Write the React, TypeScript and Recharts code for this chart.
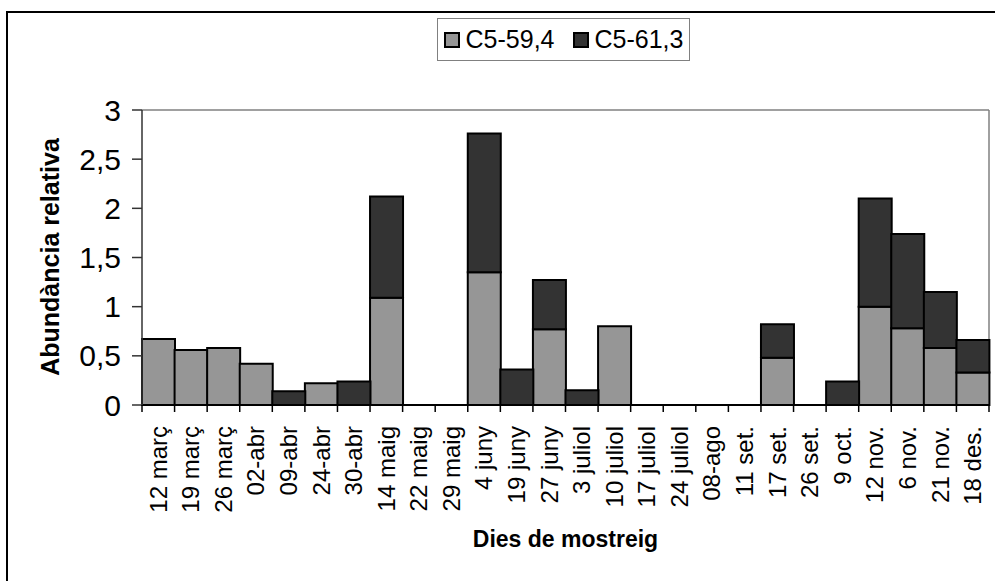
import React from "react";
import { Bar, BarChart, CartesianGrid, Label, Legend, XAxis, YAxis } from "recharts";

const dies = [
  "12 març", "19 març", "26 març", "02-abr", "09-abr", "24-abr", "30-abr", "14 maig",
  "22 maig", "29 maig", "4 juny", "19 juny", "27 juny", "3 juliol", "10 juliol", "17 juliol",
  "24 juliol", "08-ago", "11 set.", "17 set.", "26 set.", "9 oct.", "12 nov.", "6 nov.",
  "21 nov.", "18 des.",
];
const c594 = [0.67, 0.56, 0.58, 0.42, 0, 0.22, 0, 1.09, 0, 0, 1.35, 0, 0.77, 0, 0.8, 0, 0, 0, 0, 0.48, 0, 0, 1.0, 0.78, 0.58, 0.33];
const c613 = [0, 0, 0, 0, 0.14, 0, 0.24, 1.03, 0, 0, 1.41, 0.36, 0.5, 0.15, 0, 0, 0, 0, 0, 0.34, 0, 0.24, 1.1, 0.96, 0.57, 0.33];
const yTicks = [0, 0.5, 1, 1.5, 2, 2.5, 3];

const data = dies.map((d, i) => ({ dia: d, a: c594[i], b: c613[i] }));

const W = 995;
const H = 581;
const M = { top: 110, right: 6, bottom: 0, left: 0 };
const Y_W = 142;
const X_H = 176;
const FONT = "'Liberation Sans', Arial, sans-serif";
const GRIS = "#969696";
const FOSC = "#333333";

const plotW = W - M.left - M.right - Y_W;
const bw = plotW / dies.length;

function XTick(props: any) {
  const { x, y, payload, index } = props;
  const last = index === dies.length - 1;
  return (
    <g>
      <line x1={x - bw / 2} x2={x - bw / 2} y1={y} y2={y + 7} stroke="#000" strokeWidth={1.5} />
      {last && <line x1={x + bw / 2} x2={x + bw / 2} y1={y} y2={y + 7} stroke="#000" strokeWidth={1.5} />}
      <text
        x={x}
        y={y + 21}
        transform={`rotate(-90, ${x}, ${y + 21})`}
        textAnchor="end"
        dy="0.35em"
        fontFamily={FONT}
        fontSize={24}
        fill="#000"
      >
        {payload.value}
      </text>
    </g>
  );
}

function Llegenda() {
  const item = (color: string, txt: string) => (
    <div style={{ display: "flex", alignItems: "center" }}>
      <span style={{ width: 12, height: 12, background: color, border: "2px solid #000", marginRight: 6 }} />
      <span>{txt}</span>
    </div>
  );
  return (
    <div
      style={{
        boxSizing: "border-box",
        width: 253,
        height: 43,
        border: "1px solid #808080",
        background: "#fff",
        display: "flex",
        alignItems: "center",
        justifyContent: "center",
        gap: 18,
        fontFamily: FONT,
        fontSize: 25,
        color: "#000",
      }}
    >
      {item(GRIS, "C5-59,4")}
      {item(FOSC, "C5-61,3")}
    </div>
  );
}

export default function App() {
  return (
    <div style={{ position: "absolute", left: 0, top: 0, width: W, height: H, background: "#fff", overflow: "hidden" }}>
      <div
        style={{
          position: "absolute",
          left: 6,
          top: 11,
          width: 1200,
          height: 800,
          borderLeft: "2px solid #000",
          borderTop: "2px solid #000",
        }}
      />
      <div style={{ position: "absolute", left: 0, top: 0 }}>
        <BarChart width={W} height={H} data={data} margin={M} barCategoryGap={0} barGap={0}>
          <CartesianGrid
            stroke="#808080"
            strokeWidth={1.5}
            horizontalCoordinatesGenerator={({ offset }: any) => [offset.top]}
            verticalCoordinatesGenerator={({ offset }: any) => [offset.left + offset.width]}
          />
          <XAxis
            dataKey="dia"
            interval={0}
            height={X_H}
            tickSize={0}
            tickMargin={0}
            tickLine={false}
            axisLine={{ stroke: "#000", strokeWidth: 2 }}
            tick={(p: any) => <XTick {...p} />}
          >
            <Label
              content={() => (
                <text x={M.left + Y_W + plotW / 2} y={547} textAnchor="middle" fontFamily={FONT} fontSize={23} fontWeight="bold" fill="#000">
                  Dies de mostreig
                </text>
              )}
            />
          </XAxis>
          <YAxis
            width={Y_W}
            domain={[0, 3]}
            ticks={yTicks}
            tickSize={10}
            tickMargin={11}
            tickFormatter={(v: number) => String(v).replace(".", ",")}
            tick={{ fill: "#000", fontSize: 30, fontFamily: FONT }}
            tickLine={{ stroke: "#333", strokeWidth: 1.5 }}
            axisLine={{ stroke: "#333", strokeWidth: 1.5 }}
          >
            <Label
              content={() => (
                <text
                  x={50}
                  y={257}
                  transform="rotate(-90, 50, 257)"
                  textAnchor="middle"
                  dy="0.35em"
                  fontFamily={FONT}
                  fontSize={25}
                  fontWeight="bold"
                  fill="#000"
                >
                  Abundància relativa
                </text>
              )}
            />
          </YAxis>
          <Legend
            layout="horizontal"
            verticalAlign="middle"
            align="center"
            wrapperStyle={{ top: 18, left: 437, width: 253, height: 43 }}
            content={() => <Llegenda />}
          />
          <Bar dataKey="a" name="C5-59,4" stackId="s" fill={GRIS} stroke="#000" strokeWidth={2} isAnimationActive={false} />
          <Bar dataKey="b" name="C5-61,3" stackId="s" fill={FOSC} stroke="#000" strokeWidth={2} isAnimationActive={false} />
        </BarChart>
      </div>
    </div>
  );
}
